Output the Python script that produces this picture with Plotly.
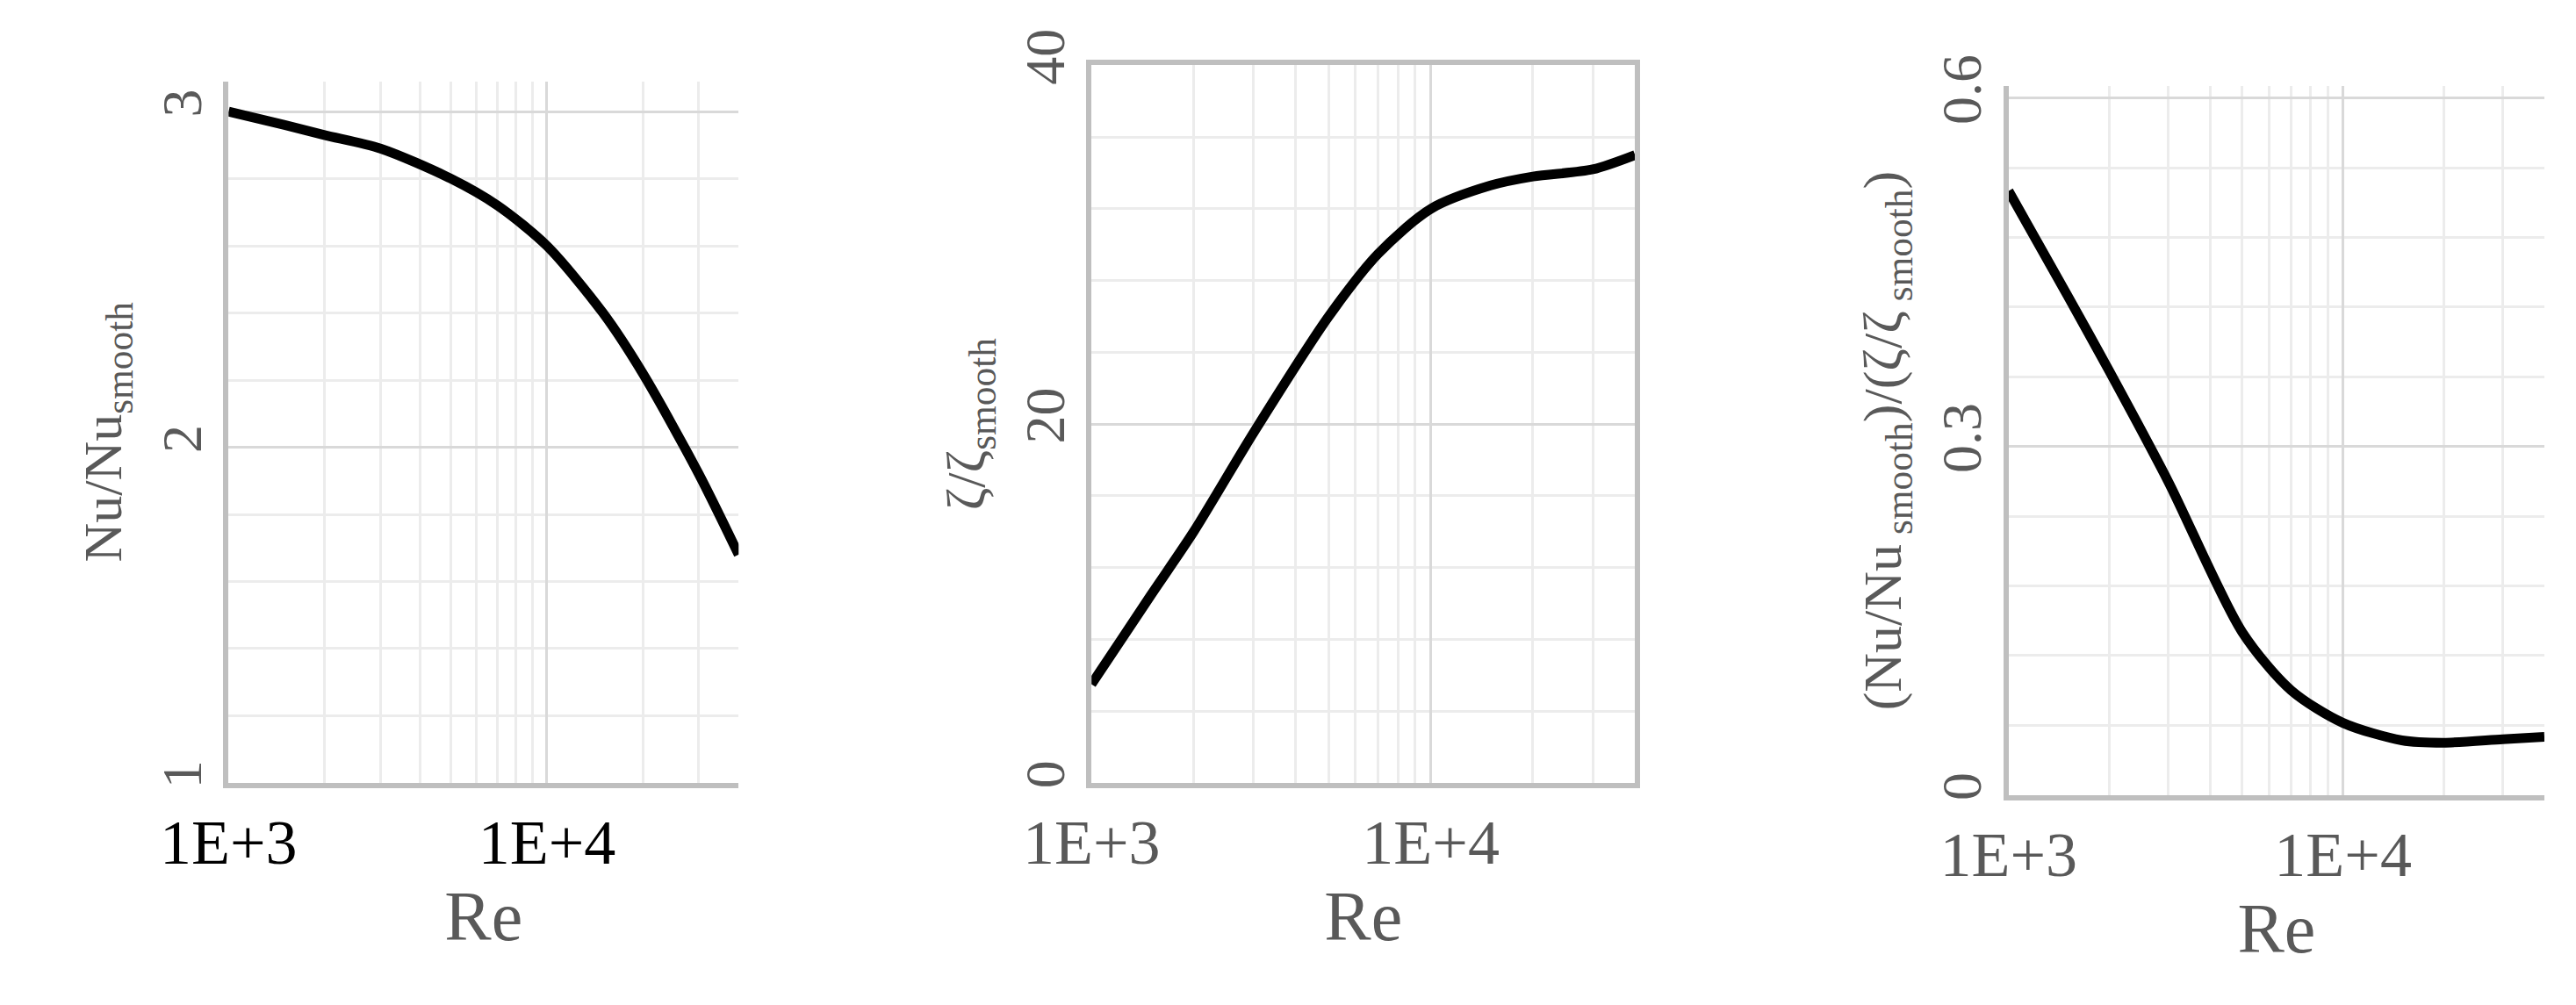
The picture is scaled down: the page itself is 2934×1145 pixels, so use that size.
import plotly.graph_objects as go

re_vals = [1000, 1500, 2000, 3000, 5000, 7000, 10000, 15000, 20000, 30000, 40000]
nu_ratio = [3.00, 2.96, 2.93, 2.89, 2.80, 2.72, 2.60, 2.40, 2.22, 1.92, 1.68]
zeta_ratio = [5.5, 10.5, 14.0, 19.5, 26.0, 29.5, 32.0, 33.3, 33.8, 34.2, 35.0]
eff_ratio = [0.52, 0.43, 0.365, 0.27, 0.14, 0.09, 0.062, 0.047, 0.045, 0.048, 0.050]

titles = ["Nu/Nu<sub>smooth</sub>", "ζ/ζ<sub>smooth</sub>",
          "(Nu/Nu<sub> smooth</sub>)/(ζ/ζ<sub> smooth</sub>)"]

FONT = "Liberation Serif"
GRAY = "#595959"
AX = "#bfbfbf"

fig = go.Figure()
series = [nu_ratio, zeta_ratio, eff_ratio]
for i, ys in enumerate(series):
    n = "" if i == 0 else str(i + 1)
    fig.add_trace(go.Scatter(x=re_vals, y=ys, mode="lines", line=dict(color="black", width=11, shape="spline", smoothing=0.8),
                             xaxis="x" + n, yaxis="y" + n, showlegend=False))

xdoms = [(0.086, 0.284), (0.421, 0.632), (0.777, 0.985)]
ydoms = [(0.228, 0.926), (0.228, 0.942), (0.216, 0.921)]
yranges = [[1, 3.09], [0, 40], [0, 0.61]]
ymajor = [1, 20, 0.3]
yminor = [0.2, 4, 0.06]
tickcol = ["black", GRAY, GRAY]

layout = dict(width=2934, height=1145, plot_bgcolor="white", paper_bgcolor="white",
              margin=dict(l=0, r=0, t=0, b=0), font=dict(family=FONT, color=GRAY))
for i in range(3):
    n = "" if i == 0 else str(i + 1)
    layout["xaxis" + n] = dict(
        type="log", domain=xdoms[i], range=[3, 4.602], anchor="y" + n, dtick=1, automargin=False,
        tickvals=[1000, 10000], ticktext=["1E+3", "1E+4"],
        tickfont=dict(size=72, color=tickcol[i], family=FONT), ticks="", ticklen=0,
        showgrid=True, gridcolor="#d9d9d9", gridwidth=3,
        minor=dict(showgrid=True, gridcolor="#ececec", gridwidth=3, dtick="D1"),
        showline=True, linecolor=AX, linewidth=6, mirror=(i == 1),
        title=dict(text="Re", font=dict(size=80, color=GRAY, family=FONT), standoff=5))
    layout["yaxis" + n] = dict(
        domain=ydoms[i], range=yranges[i], anchor="x" + n, dtick=ymajor[i], tickangle=-90, automargin=False,
        tickfont=dict(size=64, color=GRAY, family=FONT), ticks="",
        showgrid=True, gridcolor="#d9d9d9", gridwidth=3, zeroline=False,
        minor=dict(showgrid=True, gridcolor="#ececec", gridwidth=3, dtick=yminor[i]),
        showline=True, linecolor=AX, linewidth=6, mirror=(i == 1),
        title=dict(text=titles[i], font=dict(size=62, color=GRAY, family=FONT), standoff=15))

fig.update_layout(**layout)
fig.write_html("out.html")
